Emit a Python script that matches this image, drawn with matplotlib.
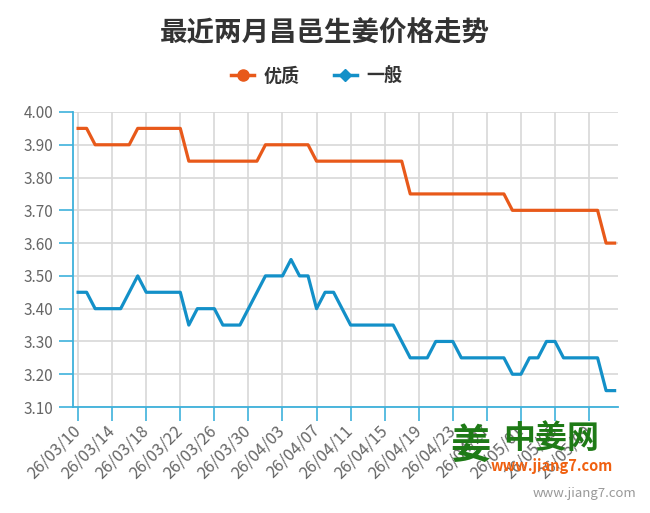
import matplotlib
matplotlib.use("Agg")
import matplotlib.pyplot as plt
from matplotlib.lines import Line2D
import pandas as pd

# Yazi tipi (Cince karakterler icin)
plt.rcParams["font.family"] = ["Noto Sans CJK SC", "DejaVu Sans"]

# Veriler (2026-03-10'dan itibaren gunluk)
start_date = "2026-03-10"
n_days = 64

premium = [3.95, 3.95, 3.90, 3.90, 3.90, 3.90, 3.90, 3.95, 3.95, 3.95,
           3.95, 3.95, 3.95, 3.85, 3.85, 3.85, 3.85, 3.85, 3.85, 3.85,
           3.85, 3.85, 3.90, 3.90, 3.90, 3.90, 3.90, 3.90, 3.85, 3.85,
           3.85, 3.85, 3.85, 3.85, 3.85, 3.85, 3.85, 3.85, 3.85, 3.75,
           3.75, 3.75, 3.75, 3.75, 3.75, 3.75, 3.75, 3.75, 3.75, 3.75,
           3.75, 3.70, 3.70, 3.70, 3.70, 3.70, 3.70, 3.70, 3.70, 3.70,
           3.70, 3.70, 3.60, 3.60]

general = [3.45, 3.45, 3.40, 3.40, 3.40, 3.40, 3.45, 3.50, 3.45, 3.45,
           3.45, 3.45, 3.45, 3.35, 3.40, 3.40, 3.40, 3.35, 3.35, 3.35,
           3.40, 3.45, 3.50, 3.50, 3.50, 3.55, 3.50, 3.50, 3.40, 3.45,
           3.45, 3.40, 3.35, 3.35, 3.35, 3.35, 3.35, 3.35, 3.30, 3.25,
           3.25, 3.25, 3.30, 3.30, 3.30, 3.25, 3.25, 3.25, 3.25, 3.25,
           3.25, 3.20, 3.20, 3.25, 3.25, 3.30, 3.30, 3.25, 3.25, 3.25,
           3.25, 3.25, 3.15, 3.15]

series_names = ["优质", "一般"]
title_text = "最近两月昌邑生姜价格走势"

dates = pd.date_range(start_date, periods=n_days, freq="D")
labels = [d.strftime("%y/%m/%d") for d in dates]
x = list(range(n_days))

# Renkler
orange = "#e8591a"
blue = "#1390c8"
axis_color = "#3eb1db"
grid_color = "#d8d8d8"
text_color = "#666666"

fig = plt.figure(figsize=(6.5, 5.13), dpi=100)
ax = fig.add_axes([0.1123, 0.2066, 0.8385, 0.5751])

ax.plot(x, premium, color=orange, linewidth=2.3, zorder=3)
ax.plot(x, general, color=blue, linewidth=2.3, zorder=3)

ax.set_xlim(-0.6, n_days - 0.6)
ax.set_ylim(3.10, 4.00)
ax.set_yticks([3.10 + 0.1 * i for i in range(10)])
ax.set_yticklabels(["%.2f" % (3.10 + 0.1 * i) for i in range(10)])

tick_idx = x[::4][:16]
ax.set_xticks(tick_idx)
ax.set_xticklabels([labels[i] for i in tick_idx], rotation=45,
                   ha="right", va="center", rotation_mode="anchor")

ax.grid(True, color=grid_color, linewidth=1.2)
ax.set_axisbelow(True)

for s in ["top", "right"]:
    ax.spines[s].set_visible(False)
for s in ["left", "bottom"]:
    ax.spines[s].set_color(axis_color)
    ax.spines[s].set_linewidth(1.3)

ax.tick_params(axis="both", colors=axis_color, length=10, width=1.2,
               labelcolor=text_color, labelsize=11)
ax.tick_params(axis="x", pad=5, labelsize=11.8)
ax.tick_params(axis="y", pad=4)

# Baslik
fig.text(0.5, 1 - 33 / 513, title_text, ha="center", va="center",
         fontsize=19.8, fontweight="bold", color="#333333")

# Lejant
handles = [
    Line2D([0], [0], color=orange, linewidth=2.5, marker="o", markersize=8),
    Line2D([0], [0], color=blue, linewidth=2.5, marker="D", markersize=6),
]
leg = fig.legend(handles, series_names, loc="center", ncol=2,
                 bbox_to_anchor=(0.487, 1 - 76 / 513), frameon=False,
                 fontsize=13, handlelength=1.3, handletextpad=0.5,
                 columnspacing=1.9)
for t in leg.get_texts():
    t.set_color("#333333")
    t.set_fontweight("bold")

# Filigran (logo)
fig.text(470 / 650, 1 - 446 / 513, "姜", ha="center", va="center",
         fontsize=29, fontweight="bold", color="#1e7a16")
fig.text(551 / 650, 1 - 439 / 513, "中姜网", ha="center", va="center",
         fontsize=23, fontweight="bold", color="#1e7a16")
fig.text(552 / 650, 1 - 466 / 513, "www.jiang7.com", ha="center", va="center",
         fontsize=10.5, fontweight="bold", style="italic", color="#f06010")
fig.text(585 / 650, 1 - 493 / 513, "www.jiang7.com", ha="center", va="center",
         fontsize=9.5, color="#999999")

plt.savefig("out.png", dpi=100)
